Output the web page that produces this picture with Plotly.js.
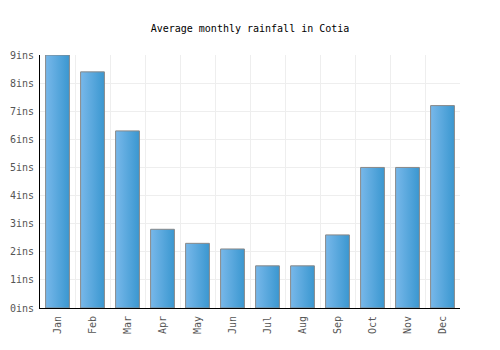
<!DOCTYPE html>
<html>
<head>
<meta charset="utf-8">
<script src="https://cdn.plot.ly/plotly-3.0.1.min.js"></script>
<style>html,body{margin:0;padding:0;background:#fff;}</style>
</head>
<body>
<div id="chart" style="width:500px;height:350px;"></div>
<script>
const months = ["Jan","Feb","Mar","Apr","May","Jun","Jul","Aug","Sep","Oct","Nov","Dec"];
const rainfall = [9.0, 8.4, 6.3, 2.8, 2.3, 2.1, 1.5, 1.5, 2.6, 5.0, 5.0, 7.2];
const yTicks = [0,1,2,3,4,5,6,7,8,9];
const yTickLabels = ["0ins","1ins","2ins","3ins","4ins","5ins","6ins","7ins","8ins","9ins"];

const font = {family: "DejaVu Sans Mono, monospace", size: 10, color: "#333"};

const trace = {
  type: "bar",
  x: months,
  y: rainfall,
  width: 0.68,
  marker: {color: "#55a5de", line: {color: "#888888", width: 1}},
  hoverinfo: "none"
};

const layout = {
  width: 500, height: 350,
  margin: {l: 40, r: 40, t: 55, b: 42},
  paper_bgcolor: "#fff", plot_bgcolor: "#fff",
  font: font,
  showlegend: false,
  title: {text: "Average monthly rainfall in Cotia", font: {family: font.family, size: 10, color: "#000"},
          x: 0.5, xanchor: "center", y: 0.92, yanchor: "middle", yref: "container"},
  xaxis: {
    type: "category", tickson: "boundaries", showgrid: true, gridcolor: "#eeeeee",
    tickangle: -90, ticks: "", showline: true, linecolor: "#000", linewidth: 1,
    ticklabelstandoff: 3,
    tickfont: {family: font.family, size: 10, color: "#555"}, fixedrange: true, zeroline: false
  },
  yaxis: {
    range: [0, 9], tickvals: yTicks, ticktext: yTickLabels, showgrid: true, gridcolor: "#eeeeee",
    showline: true, linecolor: "#000", linewidth: 1, ticks: "", zeroline: false,
    ticklabelstandoff: 3,
    tickfont: {family: font.family, size: 10, color: "#555"}, fixedrange: true
  },
  bargap: 0.32
};

Plotly.newPlot("chart", [trace], layout, {staticPlot: true, displayModeBar: false}).then(function(gd){
  const svg = gd.querySelector("svg.main-svg");
  const ns = "http://www.w3.org/2000/svg";
  let defs = svg.querySelector("defs");
  if (!defs) { defs = document.createElementNS(ns, "defs"); svg.insertBefore(defs, svg.firstChild); }
  const g = document.createElementNS(ns, "linearGradient");
  g.setAttribute("id", "barGrad");
  g.setAttribute("x1", "0"); g.setAttribute("y1", "0"); g.setAttribute("x2", "1"); g.setAttribute("y2", "0");
  [["0%", "#78b8ea"], ["100%", "#3a97d0"]].forEach(function(s){
    const st = document.createElementNS(ns, "stop");
    st.setAttribute("offset", s[0]); st.setAttribute("stop-color", s[1]);
    g.appendChild(st);
  });
  defs.appendChild(g);
  gd.querySelectorAll(".bars .point path").forEach(function(p){
    p.style.fill = "url(#barGrad)";
    p.style.fillOpacity = 1;
  });
});
</script>
</body>
</html>
